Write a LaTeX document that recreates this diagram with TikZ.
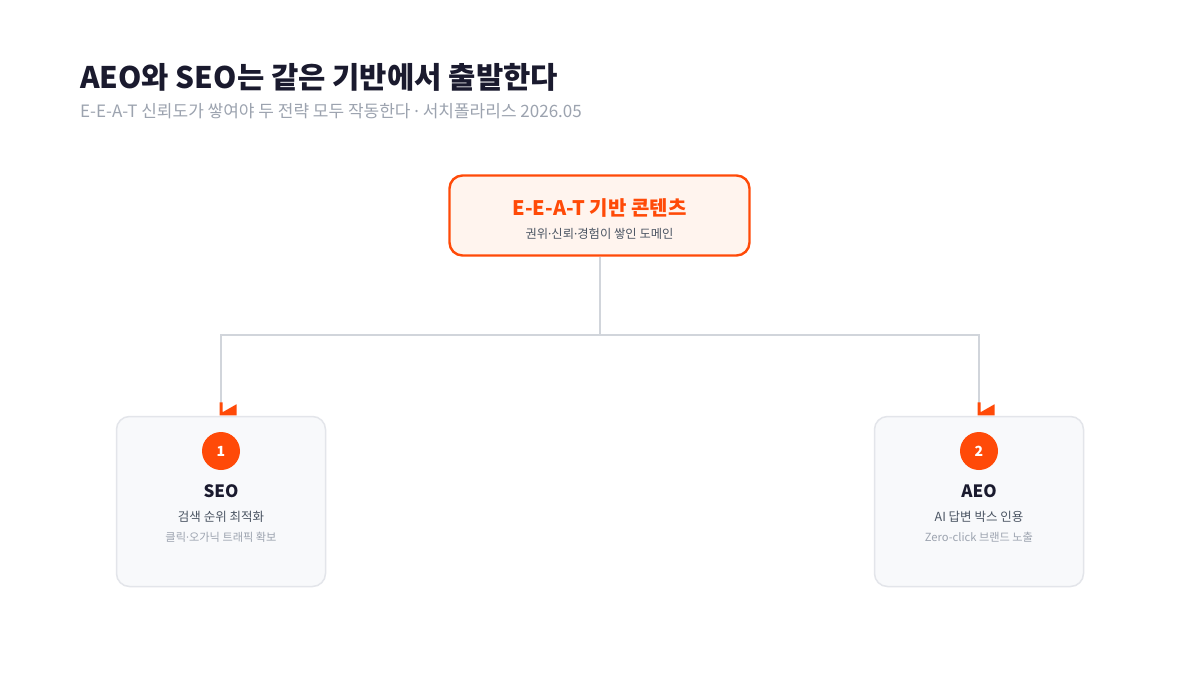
\documentclass[tikz,border=0pt]{standalone}
\usepackage{fontspec}
\setmainfont{Noto Sans CJK KR}
\newfontfamily\latinfont{Noto Sans}
\newcommand{\mdot}{{\latinfont ·}}
\definecolor{ink}{HTML}{1A1A2E}
\definecolor{subgray}{HTML}{9CA3AF}
\definecolor{midgray}{HTML}{4B5563}
\definecolor{accent}{HTML}{FF4A08}
\definecolor{accentbg}{HTML}{FFF4EE}
\definecolor{cardbg}{HTML}{F8F9FB}
\definecolor{cardline}{HTML}{E3E5EA}
\definecolor{wire}{HTML}{D1D5DB}
\tikzset{
  topbox/.style={draw=accent, line width=2.4pt, fill=accentbg, rounded corners=13pt, minimum width=300pt, minimum height=80pt},
  card/.style={draw=cardline, line width=1.5pt, fill=cardbg, rounded corners=13pt, minimum width=209pt, minimum height=170pt},
  badge/.style={circle, fill=accent, minimum size=38pt, inner sep=0pt, text=white, font=\bfseries\fontsize{14}{16}\selectfont},
  cardtitle/.style={text=ink, font=\bfseries\fontsize{17}{20}\selectfont},
  cardsub/.style={text=midgray, font=\fontsize{12.5}{15}\selectfont},
  cardnote/.style={text=subgray, font=\fontsize{11.2}{13}\selectfont},
  wireline/.style={draw=wire, line width=2pt},
  flag/.style={fill=accent}
}
\begin{document}
\begin{tikzpicture}[x=1pt,y=-1pt]
\useasboundingbox (0,0) rectangle (1200,675);
\fill[white] (0,0) rectangle (1200,675);
% title
\node[anchor=west, inner sep=0pt, text=ink, font=\bfseries\fontsize{29.7}{34}\selectfont] (title) at (80,77) {AEO와 SEO는 같은 기반에서 출발한다};
\node[anchor=west, inner sep=0pt, text=subgray, font=\fontsize{17}{20}\selectfont] (subtitle) at (80,111) {E-E-A-T 신뢰도가 쌓여야 두 전략 모두 작동한다 \mdot{} 서치폴라리스 2026.05};
% top box
\node[topbox] (root) at (599.5,215.5) {};
\node[text=accent, font=\bfseries\fontsize{20}{24}\selectfont, inner sep=0pt] (roottitle) at (599.5,208) {E-E-A-T 기반 콘텐츠};
\node[text=midgray, font=\fontsize{12.3}{14}\selectfont, inner sep=0pt] (rootsub) at (599.5,234) {권위\mdot 신뢰\mdot 경험이 쌓인 도메인};
% cards
\node[card] (seo) at (221,501.5) {};
\node[card] (aeo) at (979,501.5) {};
\node[badge] (b1) at (221,451) {1};
\node[badge] (b2) at (979,451) {2};
\node[cardtitle, inner sep=0pt] (seot) at (221,491) {SEO};
\node[cardtitle, inner sep=0pt] (aeot) at (979,491) {AEO};
\node[cardsub, inner sep=0pt] (seos) at (221,517) {검색 순위 최적화};
\node[cardsub, inner sep=0pt] (aeos) at (979,517) {AI 답변 박스 인용};
\node[cardnote, inner sep=0pt] (seon) at (221,537) {클릭\mdot 오가닉 트래픽 확보};
\node[cardnote, inner sep=0pt] (aeon) at (979,537) {Zero-click 브랜드 노출};
% connectors
\coordinate (mid) at (599.5,335);
\draw[wireline] (root.south) -- (mid) -| ([yshift=13pt]seo.north);
\draw[wireline] (mid) -| ([yshift=13pt]aeo.north);
\fill[flag] ([xshift=-1.5pt,yshift=13.5pt]seo.north) -- ++(3,0) -- ++(0,10) -- ++(14,-8) -- ++(0,11) -- ++(-17,0) -- cycle;
\fill[flag] ([xshift=-1.5pt,yshift=13.5pt]aeo.north) -- ++(3,0) -- ++(0,10) -- ++(14,-8) -- ++(0,11) -- ++(-17,0) -- cycle;
\end{tikzpicture}
\end{document}
